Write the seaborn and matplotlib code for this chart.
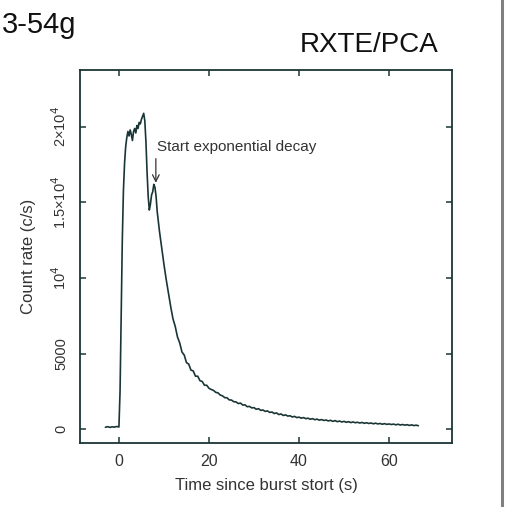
import matplotlib
matplotlib.use("Agg")
import matplotlib.pyplot as plt
from matplotlib.lines import Line2D
import seaborn as sns
import numpy as np
import pandas as pd

# ---- data ----
t_pre = [-3.0, -2.5, -2.0, -1.5, -1.0, -0.5, 0.0]
c_pre = [120, 160, 110, 150, 130, 170, 140]

t_peak = [0.25, 0.5, 0.75, 1.0, 1.25, 1.5, 1.75, 2.0, 2.25, 2.5, 2.75, 3.0,
          3.25, 3.5, 3.75, 4.0, 4.25, 4.5, 4.75, 5.0, 5.25, 5.5, 5.75, 6.0,
          6.25, 6.5, 6.75, 7.0, 7.25, 7.5, 7.75, 8.0, 8.25]
c_peak = [2500, 7500, 12500, 15800, 17600, 18700, 19300, 19700, 19400, 19800,
          19500, 19100, 19700, 19900, 19600, 20100, 19900, 20300, 20200, 20500,
          20700, 20900, 20400, 19000, 17000, 15400, 14500, 14900, 15500, 15700,
          16200, 16000, 15400]

t_decay = [8.5, 9.0, 9.5, 10.0, 10.5, 11.0, 11.5, 12.0, 12.5, 13.0, 13.5, 14.0,
           14.5, 15.0, 15.5, 16.0, 16.5, 17.0, 17.5, 18.0, 18.5, 19.0, 19.5, 20.0]
c_decay = [14400, 13100, 12000, 10900, 9900, 9000, 8100, 7300, 6800, 6100, 5700,
           5100, 4900, 4400, 4300, 3900, 3850, 3500, 3500, 3200, 3150, 2900, 2900,
           2700]

t_tail = [20.5, 21.0, 21.5, 22.0, 22.5, 23.0, 23.5, 24.0, 24.5, 25.0, 25.5, 26.0,
          26.5, 27.0, 27.5, 28.0, 28.5, 29.0, 29.5, 30.0, 30.5, 31.0, 31.5, 32.0,
          32.5, 33.0, 33.5, 34.0, 34.5, 35.0, 35.5, 36.0, 36.5, 37.0, 37.5, 38.0,
          38.5, 39.0, 39.5, 40.0, 40.5, 41.0, 41.5, 42.0, 42.5, 43.0, 43.5, 44.0,
          44.5, 45.0, 45.5, 46.0, 46.5, 47.0, 47.5, 48.0, 48.5, 49.0, 49.5, 50.0,
          50.5, 51.0, 51.5, 52.0, 52.5, 53.0, 53.5, 54.0, 54.5, 55.0, 55.5, 56.0,
          56.5, 57.0, 57.5, 58.0, 58.5, 59.0, 59.5, 60.0, 60.5, 61.0, 61.5, 62.0,
          62.5, 63.0, 63.5, 64.0, 64.5, 65.0, 65.5, 66.0, 66.5]
c_tail = [2620, 2560, 2430, 2400, 2250, 2200, 2080, 2070, 1930, 1920, 1810, 1800,
          1690, 1720, 1590, 1600, 1480, 1500, 1400, 1420, 1310, 1350, 1240, 1260,
          1170, 1200, 1100, 1130, 1030, 1070, 960, 1000, 900, 940, 860, 880,
          800, 840, 760, 790, 720, 760, 690, 720, 650, 690, 620, 660,
          590, 630, 570, 600, 540, 580, 510, 560, 490, 530, 470, 510,
          450, 490, 430, 470, 420, 450, 400, 440, 380, 420, 370, 400,
          350, 390, 340, 370, 320, 360, 310, 340, 300, 330, 280, 320,
          270, 300, 260, 290, 240, 280, 230, 260, 220]

x_ticks = [0, 20, 40, 60]
x_ticklabels = ["0", "20", "40", "60"]
y_ticks = [0, 5000, 10000, 15000, 20000]
y_ticklabels = ["0", "5000", r"10$^{4}$", r"1.5×10$^{4}$", r"2×10$^{4}$"]

df = pd.DataFrame({
    "time": t_pre + t_peak + t_decay + t_tail,
    "rate": c_pre + c_peak + c_decay + c_tail,
})

# ---- style ----
sns.set_theme(style="ticks")
plt.rcParams["font.family"] = ["Liberation Sans", "DejaVu Sans"]

ink = "#1a3535"
txt = "#333333"

fig = plt.figure(figsize=(5.08, 5.07), dpi=100)
ax = fig.add_axes([0.157, 0.126, 0.733, 0.736])

sns.lineplot(data=df, x="time", y="rate", ax=ax, color=ink, linewidth=1.2,
             estimator=None, sort=False)

ax.set_xlim(-8.7, 74)
ax.set_ylim(-930, 23770)
ax.set_xticks(x_ticks)
ax.set_xticklabels(x_ticklabels)
ax.set_yticks(y_ticks)
ax.set_yticklabels(y_ticklabels, rotation=90, va="center")

for s in ax.spines.values():
    s.set_color(ink)
    s.set_linewidth(1.3)
    s.set_visible(True)

ax.tick_params(direction="in", length=4, width=1.1, color=ink,
               top=True, right=True, labelsize=11.5, labelcolor=txt)
ax.tick_params(axis="x", pad=8)
ax.tick_params(axis="y", labelsize=10.5, pad=8)

ax.set_xlabel("Time since burst stort (s)", fontsize=12, color=txt, labelpad=6)
ax.set_ylabel("Count rate (c/s)", fontsize=12, color=txt, labelpad=10)

ax.text(8.4, 18700, "Start exponential decay", fontsize=11, color=txt,
        ha="left", va="center")
ax.annotate("", xy=(8.2, 16300), xytext=(8.2, 17900),
            arrowprops=dict(arrowstyle="->", color=txt, lw=0.9,
                            shrinkA=0, shrinkB=0))

# handwritten-style labels at the top
fig.text(0.003, 0.935, "3-54g", fontsize=21, color="#111111", ha="left",
         va="baseline")
fig.text(0.59, 0.897, "RXTE/PCA", fontsize=20, color="#111111", ha="left",
         va="baseline")

# grey page border at right
fig.add_artist(Line2D([0.988, 0.988], [0, 1], transform=fig.transFigure,
                      color="#808080", linewidth=2.2))

fig.savefig("out.png", dpi=100)
